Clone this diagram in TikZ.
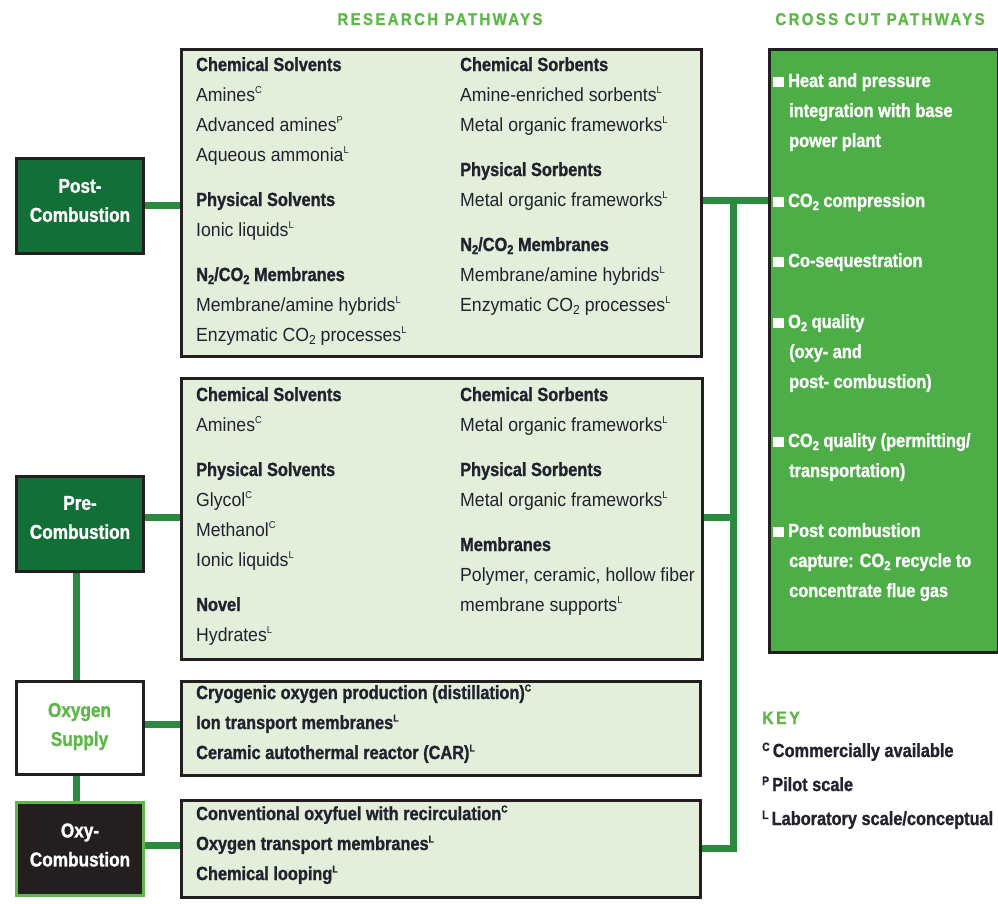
\documentclass[tikz,border=0pt]{standalone}
\usepackage{fontspec}
\setmainfont{Liberation Sans}[FakeStretch=0.93, BoldFeatures={FakeStretch=0.86, FakeBold=1.2}]
\newfontfamily\hdrfont{Liberation Sans Bold}[FakeStretch=0.88, LetterSpace=14, FakeBold=1]
\definecolor{dkgreen}{HTML}{126F37}
\definecolor{lngreen}{HTML}{2A8A3E}
\definecolor{ltgreen}{HTML}{E3EEDB}
\definecolor{ccgreen}{HTML}{4DAE48}
\definecolor{hdgreen}{HTML}{5DB848}
\definecolor{edge}{HTML}{231F20}
\definecolor{ink}{HTML}{22222E}
\newcommand\sps[1]{\raisebox{0.75ex}{\fontsize{10}{10}\selectfont #1}}
\newcommand\kps[1]{\raisebox{0.6ex}{\fontsize{12}{12}\selectfont #1}}
\newcommand\sbs[1]{\raisebox{-0.3ex}{\fontsize{13}{13}\selectfont #1}}
\newcommand\bul{\rule{11pt}{10pt}\hspace{4pt}}
\tikzset{
  conn/.style={draw=lngreen, line width=7pt},
  rbox/.style={draw=edge, line width=3pt, fill=ltgreen, anchor=north west, inner sep=0pt},
  lbox/.style={draw=edge, line width=3pt, fill=dkgreen, minimum width=127pt, minimum height=95pt, anchor=north west, inner sep=0pt},
  ltxt/.style={text=white, align=center, inner sep=0pt, font=\bfseries\fontsize{20}{29}\selectfont},
  tx/.style={anchor=base west, inner sep=0pt, text=ink, font=\fontsize{19}{21}\selectfont},
  bx/.style={tx, font=\bfseries\fontsize{19}{21}\selectfont},
  cx/.style={anchor=base west, inner sep=0pt, text=white, font=\bfseries\fontsize{19}{21}\selectfont},
  hdr/.style={anchor=base, inner sep=0pt, text=hdgreen, font=\hdrfont\fontsize{17}{18}\selectfont}
}
\begin{document}
\begin{tikzpicture}[x=1pt, y=-1pt]
\useasboundingbox (0,0) rectangle (998,903);
% headers
\node[hdr] (h1) at (440,25) {RESEARCH PATHWAYS};
\node[hdr] (h2) at (880,25) {CROSS CUT PATHWAYS};
% research boxes
\node[rbox, minimum width=520pt, minimum height=307pt] (r1) at (179.5,47.5) {};
\node[rbox, minimum width=521pt, minimum height=281pt] (r2) at (179.5,376.5) {};
\node[rbox, minimum width=519pt, minimum height=94pt] (r3) at (179.5,679.5) {};
\node[rbox, minimum width=519pt, minimum height=97pt] (r4) at (179.5,798.5) {};
% cross cut box
\node[draw=edge, line width=3pt, fill=ccgreen, anchor=north west, minimum width=229pt, minimum height=603pt, inner sep=0pt] (cc) at (767.5,47.5) {};
% left boxes
\coordinate (jx) at (733,0);
\coordinate (lx) at (76,0);
\node[lbox] (post) at (15,156.5) {};
\node[lbox] (pre) at (15,474.5) {};
\node[lbox, fill=white, minimum height=93pt] (oxs) at (14.5,679.5) {};
\node[lbox, draw=hdgreen, fill=edge, minimum height=93pt] (oxy) at (15,801) {};
\draw[conn] (pre.south -| lx) -- (oxs.north -| lx);
\draw[conn] (oxs.south -| lx) -- (oxy.north -| lx);
\node[ltxt] (postt) at ([yshift=5pt]post.center) {Post-\\Combustion};
\node[ltxt] (pret) at ([yshift=6pt]pre.center) {Pre-\\Combustion};
\node[ltxt, text=hdgreen] (oxst) at ([yshift=1pt]oxs.center) {Oxygen\\Supply};
\node[ltxt] (oxyt) at ([yshift=4pt]oxy.center) {Oxy-\\Combustion};
% left connectors
\draw[conn] (post.east) -- (post.east -| r1.west);
\draw[conn] (pre.east |- 0,517) -- (r2.west |- 0,517);
\draw[conn] (oxs.east |- 0,724) -- (r3.west |- 0,724);
\draw[conn] (oxy.east |- 0,845) -- (r4.west |- 0,845);
% right connectors
\draw[conn] (r1.east |- 0,200) -- (cc.west |- 0,200);
\draw[conn] (r4.east |- 0,848) -- (jx |- 0,848) -- (jx |- 0,200);
\draw[conn] (r2.east |- 0,517) -- (jx |- 0,517);
% box 1 texts
\node[bx] (a1) at (196,71) {Chemical Solvents};
\node[tx] (a2) at (196,101) {Amines\sps{C}};
\node[tx] (a3) at (196,131) {Advanced amines\sps{P}};
\node[tx] (a4) at (196,161) {Aqueous ammonia\sps{L}};
\node[bx] (a5) at (196,206) {Physical Solvents};
\node[tx] (a6) at (196,236) {Ionic liquids\sps{L}};
\node[bx] (a7) at (196,281) {N\sbs{2}/CO\sbs{2} Membranes};
\node[tx] (a8) at (196,311) {Membrane/amine hybrids\sps{L}};
\node[tx] (a9) at (196,341) {Enzymatic CO\sbs{2} processes\sps{L}};
\node[bx] (b1) at (460,71) {Chemical Sorbents};
\node[tx] (b2) at (460,101) {Amine-enriched sorbents\sps{L}};
\node[tx] (b3) at (460,131) {Metal organic frameworks\sps{L}};
\node[bx] (b4) at (460,176) {Physical Sorbents};
\node[tx] (b5) at (460,206) {Metal organic frameworks\sps{L}};
\node[bx] (b6) at (460,251) {N\sbs{2}/CO\sbs{2} Membranes};
\node[tx] (b7) at (460,281) {Membrane/amine hybrids\sps{L}};
\node[tx] (b8) at (460,311) {Enzymatic CO\sbs{2} processes\sps{L}};
% box 2 texts
\node[bx] (c1) at (196,401) {Chemical Solvents};
\node[tx] (c2) at (196,431) {Amines\sps{C}};
\node[bx] (c3) at (196,476) {Physical Solvents};
\node[tx] (c4) at (196,506) {Glycol\sps{C}};
\node[tx] (c5) at (196,536) {Methanol\sps{C}};
\node[tx] (c6) at (196,566) {Ionic liquids\sps{L}};
\node[bx] (c7) at (196,611) {Novel};
\node[tx] (c8) at (196,641) {Hydrates\sps{L}};
\node[bx] (d1) at (460,401) {Chemical Sorbents};
\node[tx] (d2) at (460,431) {Metal organic frameworks\sps{L}};
\node[bx] (d3) at (460,476) {Physical Sorbents};
\node[tx] (d4) at (460,506) {Metal organic frameworks\sps{L}};
\node[bx] (d5) at (460,551) {Membranes};
\node[tx] (d6) at (460,581) {Polymer, ceramic, hollow fiber};
\node[tx] (d7) at (460,611) {membrane supports\sps{L}};
% box 3 texts
\node[bx] (e1) at (196,699) {Cryogenic oxygen production (distillation)\sps{C}};
\node[bx] (e2) at (196,729) {Ion transport membranes\sps{L}};
\node[bx] (e3) at (196,759) {Ceramic autothermal reactor (CAR)\sps{L}};
% box 4 texts
\node[bx] (f1) at (196,820) {Conventional oxyfuel with recirculation\sps{C}};
\node[bx] (f2) at (196,850) {Oxygen transport membranes\sps{L}};
\node[bx] (f3) at (196,880) {Chemical looping\sps{L}};
% cross cut texts
\node[cx] (g1) at (773,87) {\bul Heat and pressure};
\node[cx] (g2) at (789,117) {integration with base};
\node[cx] (g3) at (789,147) {power plant};
\node[cx] (g4) at (773,207) {\bul CO\sbs{2} compression};
\node[cx] (g5) at (773,267) {\bul Co-sequestration};
\node[cx] (g6) at (773,328) {\bul O\sbs{2} quality};
\node[cx] (g7) at (789,358) {(oxy- and};
\node[cx] (g8) at (789,388) {post- combustion)};
\node[cx] (g9) at (773,447) {\bul CO\sbs{2} quality (permitting/};
\node[cx] (g10) at (789,477) {transportation)};
\node[cx] (g11) at (773,537) {\bul Post combustion};
\node[cx] (g12) at (789,567) {capture: CO\sbs{2} recycle to};
\node[cx] (g13) at (789,597) {concentrate flue gas};
% key
\node[hdr, anchor=base west, font=\hdrfont\fontsize{18}{18}\selectfont] (k0) at (762,724) {KEY};
\node[bx] (k1) at (762,757) {\kps{C}\,Commercially available};
\node[bx] (k2) at (762,791) {\kps{P}\,Pilot scale};
\node[bx] (k3) at (762,825) {\kps{L}\,Laboratory scale/conceptual};
\end{tikzpicture}
\end{document}
